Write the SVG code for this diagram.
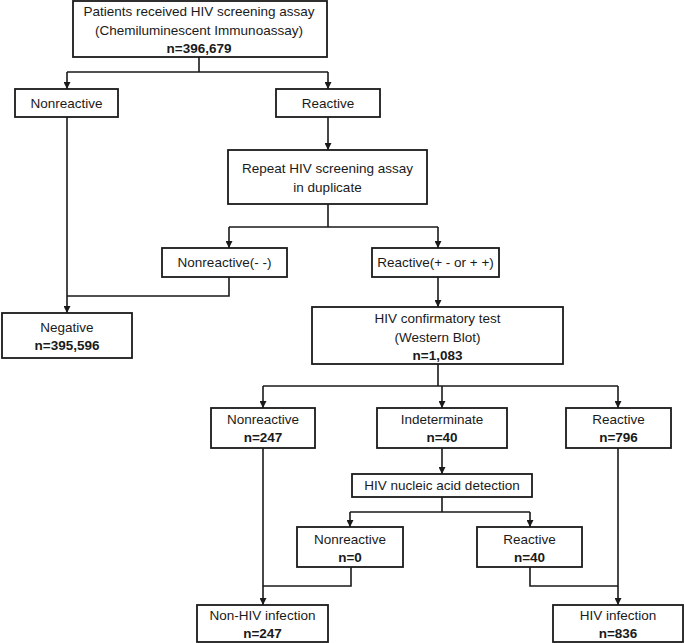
<svg xmlns="http://www.w3.org/2000/svg" width="685" height="643" viewBox="0 0 685 643">
<defs>
<style>
.box{fill:#fff;stroke:#1a1a1a;stroke-width:1.8}
.ln{fill:none;stroke:#1a1a1a;stroke-width:1.6}
text{font-family:"Liberation Sans",Arial,sans-serif;font-size:13.5px;fill:#1a1a1a;text-anchor:middle}
.b{font-weight:bold}
</style>
<marker id="ah" viewBox="0 0 10 10" refX="10" refY="5" markerWidth="7" markerHeight="7" markerUnits="userSpaceOnUse" orient="auto">
<path d="M0,0 L10,5 L0,10 z" fill="#1a1a1a"/>
</marker>
</defs>
<rect width="685" height="643" fill="#fff"/>
<g id="connectors">
<path class="ln" d="M199,57 V72 M67,72 H328"/>
<path class="ln" d="M67,72 V89" marker-end="url(#ah)"/>
<path class="ln" d="M328,72 V89" marker-end="url(#ah)"/>
<path class="ln" d="M328,117 V150" marker-end="url(#ah)"/>
<path class="ln" d="M328,204 V227 M229,227 H438"/>
<path class="ln" d="M229,227 V248" marker-end="url(#ah)"/>
<path class="ln" d="M438,227 V248" marker-end="url(#ah)"/>
<path class="ln" d="M67,117 V313" marker-end="url(#ah)"/>
<path class="ln" d="M229,277 V296 H67"/>
<path class="ln" d="M438,277 V307" marker-end="url(#ah)"/>
<path class="ln" d="M438,364 V386 M263,386 H618"/>
<path class="ln" d="M263,386 V408" marker-end="url(#ah)"/>
<path class="ln" d="M442,386 V408" marker-end="url(#ah)"/>
<path class="ln" d="M618,386 V408" marker-end="url(#ah)"/>
<path class="ln" d="M263,448 V605" marker-end="url(#ah)"/>
<path class="ln" d="M442,448 V474" marker-end="url(#ah)"/>
<path class="ln" d="M442,497 V512 M350,512 H530"/>
<path class="ln" d="M350,512 V527" marker-end="url(#ah)"/>
<path class="ln" d="M530,512 V527" marker-end="url(#ah)"/>
<path class="ln" d="M351,567 V586 H263"/>
<path class="ln" d="M530,567 V586 H618"/>
<path class="ln" d="M618,448 V605" marker-end="url(#ah)"/>
</g>
<g id="screening">
<rect class="box" x="73" y="1" width="254" height="56"/>
<text x="199" y="16">Patients received HIV screening assay</text>
<text x="199" y="35">(Chemiluminescent Immunoassay)</text>
<text class="b" x="199" y="53">n=396,679</text>
</g>
<g id="nonreactive1">
<rect class="box" x="15" y="89" width="103" height="28"/>
<text x="66.5" y="108">Nonreactive</text>
</g>
<g id="reactive1">
<rect class="box" x="276" y="89" width="104" height="28"/>
<text x="328" y="108">Reactive</text>
</g>
<g id="repeat">
<rect class="box" x="228" y="150" width="199" height="54"/>
<text x="327.5" y="173">Repeat HIV screening assay</text>
<text x="327.5" y="192">in duplicate</text>
</g>
<g id="nonreactive2">
<rect class="box" x="162" y="248" width="125" height="29"/>
<text x="224.5" y="267">Nonreactive(- -)</text>
</g>
<g id="reactive2">
<rect class="box" x="372" y="248" width="127" height="29"/>
<text x="435.5" y="267">Reactive(+ - or + +)</text>
</g>
<g id="negative">
<rect class="box" x="2" y="313" width="130" height="45"/>
<text x="67" y="332">Negative</text>
<text class="b" x="67" y="350">n=395,596</text>
</g>
<g id="confirmatory">
<rect class="box" x="312" y="307" width="251" height="57"/>
<text x="437.5" y="323">HIV confirmatory test</text>
<text x="437.5" y="342">(Western Blot)</text>
<text class="b" x="437.5" y="360">n=1,083</text>
</g>
<g id="wb-nonreactive">
<rect class="box" x="211" y="408" width="104" height="40"/>
<text x="263" y="424">Nonreactive</text>
<text class="b" x="263" y="442">n=247</text>
</g>
<g id="wb-indeterminate">
<rect class="box" x="377" y="408" width="130" height="40"/>
<text x="442" y="424">Indeterminate</text>
<text class="b" x="442" y="442">n=40</text>
</g>
<g id="wb-reactive">
<rect class="box" x="566" y="408" width="105" height="40"/>
<text x="618.5" y="424">Reactive</text>
<text class="b" x="618.5" y="442">n=796</text>
</g>
<g id="nucleic">
<rect class="box" x="352" y="474" width="180" height="23"/>
<text x="442" y="490">HIV nucleic acid detection</text>
</g>
<g id="nat-nonreactive">
<rect class="box" x="297" y="527" width="106" height="40"/>
<text x="350" y="544">Nonreactive</text>
<text class="b" x="350" y="562">n=0</text>
</g>
<g id="nat-reactive">
<rect class="box" x="477" y="527" width="105" height="40"/>
<text x="529.5" y="544">Reactive</text>
<text class="b" x="529.5" y="562">n=40</text>
</g>
<g id="non-hiv">
<rect class="box" x="197" y="605" width="131" height="37"/>
<text x="262.5" y="620">Non-HIV infection</text>
<text class="b" x="262.5" y="638">n=247</text>
</g>
<g id="hiv">
<rect class="box" x="553" y="605" width="130" height="37"/>
<text x="618" y="620">HIV infection</text>
<text class="b" x="618" y="638">n=836</text>
</g>
</svg>
